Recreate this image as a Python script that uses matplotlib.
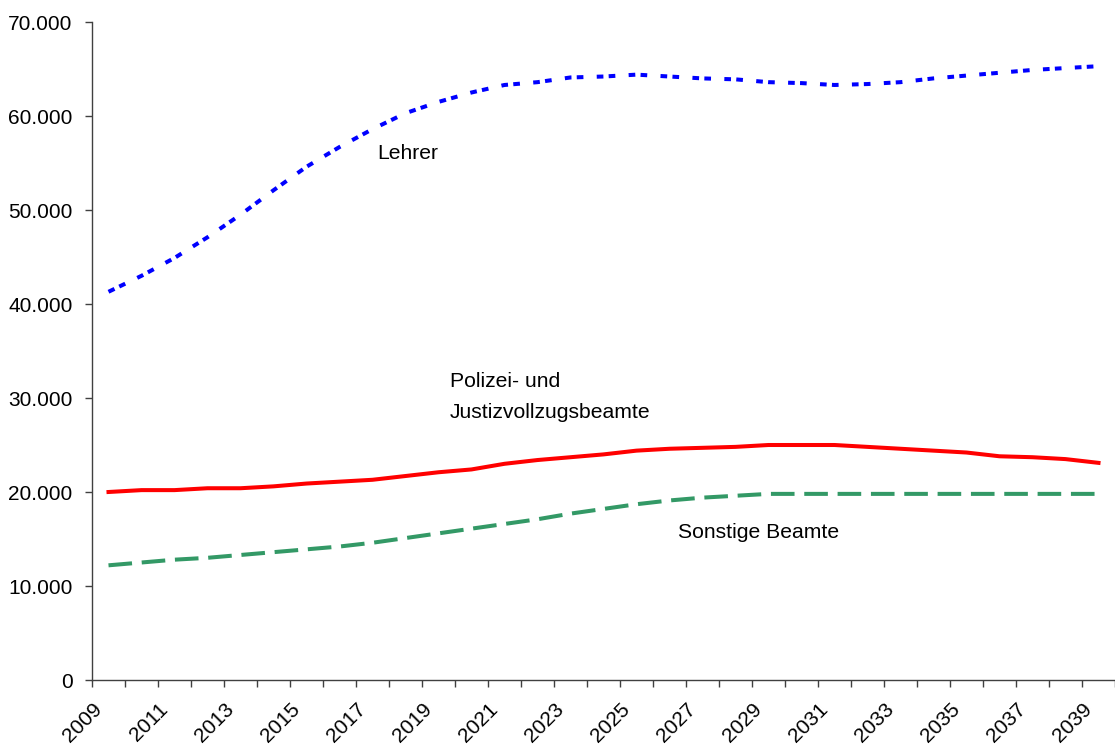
import matplotlib
matplotlib.use("Agg")
import matplotlib.pyplot as plt
from matplotlib.ticker import FixedLocator, FuncFormatter
from matplotlib.transforms import ScaledTranslation

plt.rcParams['font.family'] = ['Liberation Sans', 'DejaVu Sans']
plt.rcParams['lines.scale_dashes'] = False

years = list(range(2009, 2040))

lehrer = [41300, 43000, 44900, 47100, 49500, 52100, 54600, 56700, 58600, 60300,
          61500, 62500, 63300, 63600, 64100, 64200, 64400, 64200, 64000, 63900,
          63600, 63500, 63300, 63400, 63600, 64000, 64300, 64600, 64900, 65100,
          65300]

polizei = [20000, 20200, 20200, 20400, 20400, 20600, 20900, 21100, 21300, 21700,
           22100, 22400, 23000, 23400, 23700, 24000, 24400, 24600, 24700, 24800,
           25000, 25000, 25000, 24800, 24600, 24400, 24200, 23800, 23700, 23500,
           23100]

sonstige = [12200, 12500, 12800, 13000, 13300, 13600, 13900, 14200, 14600, 15100,
            15600, 16100, 16600, 17100, 17700, 18200, 18700, 19100, 19400, 19600,
            19800, 19800, 19800, 19800, 19800, 19800, 19800, 19800, 19800, 19800,
            19800]

yticks = [0, 10000, 20000, 30000, 40000, 50000, 60000, 70000]
label_years = years[::2]

fig = plt.figure(figsize=(11.15, 7.46), dpi=100)
ax = fig.add_axes([92 / 1115, 1 - 680 / 746, 1 - 92 / 1115, (680 - 22) / 746])

x = list(range(len(years)))
ax.plot(x, sonstige, color='#339966', lw=2.9, dashes=[17.0, 7.0], solid_capstyle='butt')
ax.plot(x, polizei, color='#FF0000', lw=2.9, solid_joinstyle='round')
ax.plot(x, lehrer, color='#0000FF', lw=2.9, dashes=[4.8, 3.8, 4.8, 9.6],
        dash_capstyle='butt')

ax.set_xlim(-0.5, len(years) - 0.5)
ax.set_ylim(0, 70000)

# category boundaries carry the ticks; every second one is labelled
ax.xaxis.set_major_locator(FixedLocator([years.index(y) - 0.5 for y in label_years]))
ax.set_xticklabels([str(y) for y in label_years])
ax.xaxis.set_minor_locator(FixedLocator([i - 0.5 for i in range(len(years) + 1)]))
ax.set_yticks(yticks)
ax.yaxis.set_major_formatter(FuncFormatter(lambda v, p: f"{int(v):,}".replace(",", ".")))

for spine in ('top', 'right'):
    ax.spines[spine].set_visible(False)
for spine in ('left', 'bottom'):
    ax.spines[spine].set_color('#404040')
    ax.spines[spine].set_linewidth(1.0)

ax.tick_params(axis='y', direction='out', length=5, width=1, color='#404040',
               labelsize=15, pad=9)
ax.tick_params(axis='x', which='both', direction='out', length=5, width=1,
               color='#404040', labelsize=15, pad=14)
shift = ScaledTranslation(7 / 100, 0, fig.dpi_scale_trans)
for lab in ax.get_xticklabels():
    lab.set_rotation(45)
    lab.set_ha('right')
    lab.set_va('center')
    lab.set_rotation_mode('anchor')
    lab.set_transform(lab.get_transform() + shift)

ax.text(8.14, 56000, 'Lehrer', fontsize=15.2, va='center', ha='left')
ax.text(10.35, 31800, 'Polizei- und', fontsize=15.2, va='center', ha='left')
ax.text(10.35, 28500, 'Justizvollzugsbeamte', fontsize=15.2, va='center', ha='left')
ax.text(17.26, 15650, 'Sonstige Beamte', fontsize=15.2, va='center', ha='left')

fig.savefig('out.png', dpi=100)
